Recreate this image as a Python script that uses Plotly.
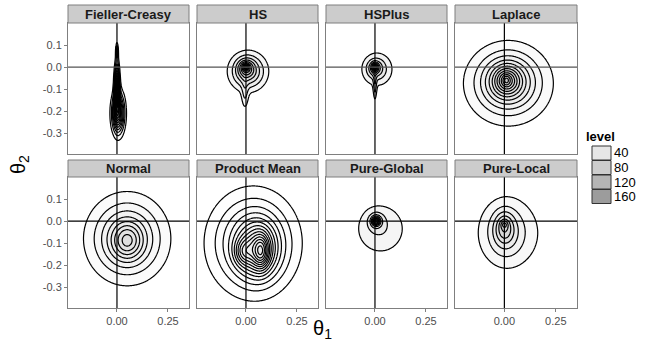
import numpy as np
import plotly.graph_objects as go

panels = ["Fieller-Creasy", "HS", "HSPlus", "Laplace",
          "Normal", "Product Mean", "Pure-Global", "Pure-Local"]
# number of contour lines
n_lines = [12, 11, 9, 12, 8, 14, 9, 7]

comp_panel = [0, 0, 0,
              1, 1, 1, 1,
              2, 2, 2, 2,
              3, 3, 3, 3,
              4, 4,
              5, 5, 5, 5,
              6, 6, 6,
              7, 7, 7, 7]
comp_mx = [0.006, 0.000, 0.000,
           0.010, 0.000, 0.000, -0.005,
           0.000, 0.000, 0.010, 0.000,
           0.020, 0.015, 0.010, 0.010,
           0.050, 0.050,
           0.035, 0.060, 0.075, -0.015,
           0.005, 0.005, 0.027,
           0.000, 0.000, 0.005, 0.025]
comp_my = [-0.21, -0.10, 0.07,
           -0.02, -0.005, 0.0, -0.13,
           0.0, -0.005, -0.01, -0.09,
           -0.075, -0.065, -0.06, -0.06,
           -0.08, -0.09,
           -0.10, -0.13, -0.14, -0.14,
           0.0, 0.0, -0.035,
           -0.015, -0.03, -0.05, -0.055]
comp_sx = [0.020, 0.008, 0.004,
           0.058, 0.025, 0.010, 0.012,
           0.010, 0.022, 0.050, 0.006,
           0.130, 0.070, 0.035, 0.012,
           0.120, 0.050,
           0.130, 0.060, 0.025, 0.030,
           0.012, 0.025, 0.090,
           0.012, 0.030, 0.060, 0.125]
comp_sy = [0.060, 0.070, 0.025,
           0.055, 0.025, 0.010, 0.045,
           0.012, 0.022, 0.050, 0.045,
           0.115, 0.065, 0.035, 0.015,
           0.120, 0.055,
           0.140, 0.080, 0.050, 0.040,
           0.012, 0.025, 0.085,
           0.012, 0.045, 0.080, 0.125]
comp_amp = [70, 90, 30,
            70, 45, 65, 25,
            90, 45, 60, 40,
            31, 31, 24, 12,
            34, 25,
            14, 14, 10, 7,
            90, 40, 34,
            21, 30, 26, 21]

x_ticks = [0.0, 0.25]
x_ticklabels = ["0.00", "0.25"]
y_ticks = [0.1, 0.0, -0.1, -0.2, -0.3]
y_ticklabels = ["0.1", "0.0", "-0.1", "-0.2", "-0.3"]
legend_levels = [40, 80, 120, 160]

xr = [-0.24, 0.353]
yr = [-0.395, 0.2]
gx = np.linspace(xr[0], xr[1], 180)
gy = np.linspace(yr[0], yr[1], 180)
XX, YY = np.meshgrid(gx, gy)

W, H = 664, 346
col_px = [(68, 189), (197, 318), (326, 447), (455, 577)]
row_px = [(23, 154), (177, 308)]
strip_px = [(5, 23), (160, 177)]
FONT = "Liberation Sans"


def grey(v):
    g = int(round(min(255, max(0, 255 - 0.62 * v))))
    return "rgb(%d,%d,%d)" % (g, g, g)


fig = go.Figure()
for i, name in enumerate(panels):
    z = np.zeros_like(XX)
    for k, p in enumerate(comp_panel):
        if p == i:
            z += comp_amp[k] * np.exp(-0.5 * (((XX - comp_mx[k]) / comp_sx[k]) ** 2
                                             + ((YY - comp_my[k]) / comp_sy[k]) ** 2))
    nl = n_lines[i]
    cs = z.max() / (nl + 0.5)
    start, end = cs, cs * nl
    # plotly fills the band above level l with colour(l + cs/2); ggplot uses fill(l)
    scale = [[0, grey(start - cs)], [1, grey(start + (nl - 1.5) * cs)]]
    n = "" if i == 0 else str(i + 1)
    fig.add_trace(go.Contour(
        x=gx, y=gy, z=z, xaxis="x" + n, yaxis="y" + n,
        colorscale=scale, showscale=False, autocontour=False,
        contours=dict(coloring="fill", showlines=True, start=start, end=end, size=cs),
        line=dict(color="black", width=1.2, smoothing=1),
        hoverinfo="skip", showlegend=False))

    r, c = divmod(i, 4)
    x0, x1 = col_px[c]
    y0, y1 = row_px[r]
    common = dict(showline=True, mirror=True, linecolor="#7f7f7f", linewidth=1,
                  gridcolor="#e5e5e5", gridwidth=1, zeroline=False,
                  ticks="outside", ticklen=3, tickcolor="#7f7f7f",
                  tickfont=dict(family=FONT, size=11, color="#4d4d4d"))
    fig.layout["xaxis" + n] = dict(
        domain=[x0 / W, x1 / W], range=xr, anchor="y" + n,
        tickvals=x_ticks, ticktext=x_ticklabels, showticklabels=(r == 1),
        minor=dict(tickvals=[-0.125, 0.125], showgrid=True, gridcolor="#f5f5f5", ticks=""),
        **common)
    fig.layout["yaxis" + n] = dict(
        domain=[1 - y1 / H, 1 - y0 / H], range=yr, anchor="x" + n,
        tickvals=y_ticks, ticktext=y_ticklabels, showticklabels=(c == 0),
        minor=dict(tickvals=[0.15, 0.05, -0.05, -0.15, -0.25, -0.35],
                   showgrid=True, gridcolor="#f5f5f5", ticks=""),
        **common)
    if r == 0:
        fig.layout["xaxis" + n].ticks = ""
    if c > 0:
        fig.layout["yaxis" + n].ticks = ""

    # zero reference lines
    fig.add_shape(type="line", xref="x" + n, yref="y" + n + " domain",
                  x0=0, x1=0, y0=0, y1=1, line=dict(color="black", width=1.2), layer="above")
    fig.add_shape(type="line", xref="x" + n + " domain", yref="y" + n,
                  x0=0, x1=1, y0=0, y1=0, layer="above",
                  line=dict(color="#555555" if r == 0 else "black", width=1.3 if r == 0 else 1.2))

    # facet strip
    s0, s1 = strip_px[r]
    fig.add_shape(type="rect", xref="paper", yref="paper",
                  x0=x0 / W, x1=x1 / W, y0=1 - s1 / H, y1=1 - s0 / H,
                  fillcolor="#cccccc", line=dict(color="#7f7f7f", width=1))
    fig.add_annotation(text="<b>" + name + "</b>", xref="paper", yref="paper",
                       x=(x0 + x1) / 2 / W, y=1 - (s0 + s1) / 2 / H,
                       xanchor="center", yanchor="middle", showarrow=False,
                       font=dict(family=FONT, size=13, color="#1a1a1a"))

# axis titles
fig.add_annotation(text="θ<sub>1</sub>", xref="paper", yref="paper",
                   x=322 / W, y=1 - 329 / H, xanchor="center", yanchor="middle",
                   showarrow=False, font=dict(family=FONT, size=20, color="black"))
fig.add_annotation(text="θ<sub>2</sub>", xref="paper", yref="paper",
                   x=19 / W, y=1 - 165 / H, xanchor="center", yanchor="middle",
                   showarrow=False, textangle=-90,
                   font=dict(family=FONT, size=20, color="black"))

# legend for fill level
fig.add_annotation(text="<b>level</b>", xref="paper", yref="paper",
                   x=584 / W, y=1 - 137 / H, xanchor="left", yanchor="middle",
                   showarrow=False, font=dict(family=FONT, size=13, color="black"))
for j, v in enumerate(legend_levels):
    ty = 146 + j * 14.5
    fig.add_shape(type="rect", xref="paper", yref="paper",
                  x0=592 / W, x1=611 / W, y0=1 - (ty + 14) / H, y1=1 - ty / H,
                  fillcolor=grey(v), line=dict(color="#333333", width=1))
    fig.add_annotation(text=str(v), xref="paper", yref="paper",
                       x=612 / W, y=1 - (ty + 7) / H, xanchor="left", yanchor="middle",
                       showarrow=False, font=dict(family=FONT, size=13, color="black"))

fig.update_layout(
    width=W, height=H, margin=dict(l=0, r=0, t=0, b=0),
    paper_bgcolor="white", plot_bgcolor="white",
    showlegend=False,
)
fig.write_html("out.html", config={"displayModeBar": False},
               post_script="document.body.style.margin='0';")
